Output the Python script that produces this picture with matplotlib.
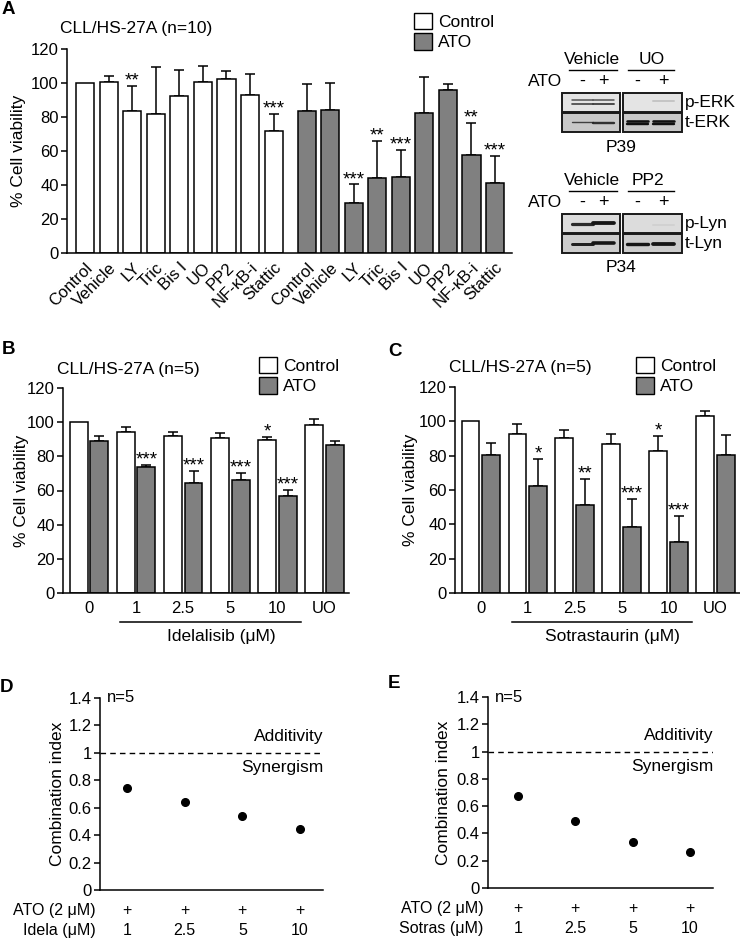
import matplotlib

matplotlib.use("Agg")
import matplotlib.pyplot as plt
from matplotlib.patches import Patch, Rectangle
from matplotlib.transforms import blended_transform_factory

plt.rcParams["font.family"] = ["Liberation Sans", "DejaVu Sans"]
plt.rcParams["axes.linewidth"] = 1.1

W, H = 740, 941
WHITE = "white"
GRAY = "#808080"

# panel A: inhibitors, CLL/HS-27A (n=10)
a_labels = ["Control", "Vehicle", "LY", "Tric", "Bis I", "UO", "PP2", "NF-κB-i", "Stattic"]
a_ctrl = [100, 100.5, 83.3, 81.7, 92.3, 100.4, 102.5, 92.7, 71.7]
a_ctrl_sd = [0, 3.8, 15.1, 27.7, 15.5, 9.4, 4.7, 12.8, 10.2]
a_ctrl_sig = ["", "", "**", "", "", "", "", "", "***"]
a_ato = [83.7, 84.4, 29.5, 44.0, 44.6, 82.3, 95.6, 57.7, 41.2]
a_ato_sd = [15.7, 15.8, 10.8, 22.0, 15.9, 21.0, 3.8, 18.9, 15.8]
a_ato_sig = ["", "", "***", "**", "***", "", "", "**", "***"]

# panel B: idelalisib
b_labels = ["0", "1", "2.5", "5", "10", "UO"]
b_ctrl = [100, 94.2, 92.0, 91.0, 89.7, 98.6]
b_ctrl_sd = [0, 2.7, 2.3, 2.6, 1.9, 3.2]
b_ctrl_sig = ["", "", "", "", "*", ""]
b_ato = [89.1, 73.5, 64.3, 66.1, 56.5, 86.7]
b_ato_sd = [2.9, 1.2, 7.0, 4.1, 3.9, 2.0]
b_ato_sig = ["", "***", "***", "***", "***", ""]

# panel C: sotrastaurin
c_labels = ["0", "1", "2.5", "5", "10", "UO"]
c_ctrl = [100, 92.9, 90.2, 86.9, 83.0, 102.9]
c_ctrl_sd = [0, 5.7, 4.6, 6.0, 8.3, 2.9]
c_ctrl_sig = ["", "", "", "", "*", ""]
c_ato = [80.1, 62.4, 51.5, 38.2, 29.9, 80.1]
c_ato_sd = [7.4, 15.4, 14.7, 16.8, 14.7, 12.2]
c_ato_sig = ["", "*", "**", "***", "***", ""]

# panels D/E: combination index
d_doses = ["1", "2.5", "5", "10"]
d_ci = [0.743, 0.645, 0.536, 0.448]
e_doses = ["1", "2.5", "5", "10"]
e_ci = [0.677, 0.489, 0.335, 0.264]

fig = plt.figure(figsize=(W / 100, H / 100), dpi=100)


def px_axes(l, t, r, b):
    return fig.add_axes([l / W, 1 - b / H, (r - l) / W, (b - t) / H])


def style(ax, fs=12):
    for s in ("top", "right"):
        ax.spines[s].set_visible(False)
    ax.tick_params(axis="y", direction="out", length=4, width=1.1, labelsize=fs, pad=2)
    ax.tick_params(axis="x", length=0, labelsize=fs)


def bars(ax, xs, vals, sds, sigs, color, width):
    ax.bar(xs, vals, width=width, color=color, edgecolor="black", linewidth=1.1, zorder=2)
    for x, v, sd, s in zip(xs, vals, sds, sigs):
        if sd > 0:
            ax.errorbar(x, v, yerr=[[0], [sd]], color="black", lw=1.1, capsize=3.5,
                        capthick=1.1, zorder=1)
        if s:
            ax.text(x, v + sd + 0.3, s, ha="center", va="baseline", fontsize=13.5)


def legend(ax, x, y):
    handles = [Patch(facecolor=WHITE, edgecolor="black", lw=1),
               Patch(facecolor=GRAY, edgecolor="black", lw=1)]
    ax.legend(handles, ["Control", "ATO"], loc="upper left",
              bbox_to_anchor=(x / W, 1 - y / H), bbox_transform=fig.transFigure,
              frameon=False, fontsize=12.5, handlelength=1.05, handleheight=1.05,
              handletextpad=0.35, labelspacing=0.2, borderpad=0, borderaxespad=0)


# ---- A ----
axA = px_axes(67, 49, 512, 253)
style(axA)
xa_c = list(range(9))
xa_a = [x + 9.4 for x in xa_c]
bars(axA, xa_c, a_ctrl, a_ctrl_sd, a_ctrl_sig, WHITE, 0.77)
bars(axA, xa_a, a_ato, a_ato_sd, a_ato_sig, GRAY, 0.77)
axA.set_xlim(-0.77, 18.12)
axA.set_ylim(0, 120)
axA.set_yticks(range(0, 121, 20))
axA.set_xticks(xa_c + xa_a)
axA.set_xticklabels(a_labels + a_labels, rotation=45, ha="right",
                    rotation_mode="anchor", fontsize=12)
axA.tick_params(axis="x", pad=5)
axA.set_ylabel("% Cell viability", fontsize=12.5)
axA.yaxis.set_label_coords(-0.092, 0.5)
axA.set_title("CLL/HS-27A (n=10)", fontsize=12.5, loc="left", x=-0.015, y=1.04)
legend(axA, 414, 13)

# ---- B and C ----
def dose_panel(box, labels, ctrl, ctrl_sd, ctrl_sig, ato, ato_sd, ato_sig, drug, lab_x):
    ax = px_axes(*box)
    style(ax)
    xs = list(range(len(labels)))
    bars(ax, [x - 0.22 for x in xs], ctrl, ctrl_sd, ctrl_sig, WHITE, 0.38)
    bars(ax, [x + 0.22 for x in xs], ato, ato_sd, ato_sig, GRAY, 0.38)
    ax.set_xlim(-0.55, 5.52)
    ax.set_ylim(0, 120)
    ax.set_yticks(range(0, 121, 20))
    ax.set_xticks(xs)
    ax.set_xticklabels(labels)
    ax.tick_params(axis="x", pad=6)
    ax.set_ylabel("% Cell viability", fontsize=12.5)
    ax.yaxis.set_label_coords(lab_x, 0.5)
    tr = blended_transform_factory(ax.transData, ax.transAxes)
    ax.plot([0.66, 4.5], [-0.142, -0.142], color="black", lw=1.1, transform=tr, clip_on=False)
    ax.text(2.8, -0.21, drug, transform=tr, ha="center", va="center", fontsize=12.5)
    ax.set_title("CLL/HS-27A (n=5)", fontsize=12.5, loc="left", x=-0.02, y=1.03)
    return ax


axB = dose_panel((63, 388, 349, 593), b_labels, b_ctrl, b_ctrl_sd, b_ctrl_sig,
                 b_ato, b_ato_sd, b_ato_sig, "Idelalisib (μM)", -0.119)
legend(axB, 259, 357)
axC = dose_panel((455, 387, 740, 593), c_labels, c_ctrl, c_ctrl_sd, c_ctrl_sig,
                 c_ato, c_ato_sd, c_ato_sig, "Sotrastaurin (μM)", -0.13)
legend(axC, 636, 357)

# ---- D and E ----
def ci_panel(box, doses, ci, drug, xlim, lab_x):
    ax = px_axes(*box)
    style(ax, fs=12)
    xs = list(range(len(doses)))
    ax.plot(xs, ci, "o", color="black", ms=5.5, clip_on=False)
    ax.axhline(1, color="black", lw=1, ls=(0, (4, 3)))
    ax.set_xlim(*xlim)
    ax.set_ylim(0, 1.4)
    ticks = [0, 0.2, 0.4, 0.6, 0.8, 1, 1.2, 1.4]
    ax.set_yticks(ticks)
    ax.set_yticklabels(["0", "0.2", "0.4", "0.6", "0.8", "1", "1.2", "1.4"])
    ax.set_xticks(xs)
    ax.set_xticklabels(["+\n" + d for d in doses], fontsize=11.5, linespacing=1.42)
    ax.tick_params(axis="x", pad=9)
    ax.annotate("ATO (2 μM)\n" + drug, xy=(0, 0), xycoords="axes fraction",
                xytext=(-3, -9), textcoords="offset points", ha="right", va="top",
                fontsize=11.5, linespacing=1.42, annotation_clip=False)
    ax.set_ylabel("Combination index", fontsize=12.5)
    ax.yaxis.set_label_coords(lab_x, 0.5)
    tr = blended_transform_factory(ax.transAxes, ax.transData)
    ax.text(1.0, 1.117, "Additivity", transform=tr, ha="right", va="center", fontsize=12.5)
    ax.text(1.0, 0.89, "Synergism", transform=tr, ha="right", va="center", fontsize=12.5)
    ax.text(0.03, 1.0, "n=5", transform=ax.transAxes, ha="left", va="center", fontsize=12)
    return ax


ci_panel((100, 698, 323, 890), d_doses, d_ci, "Idela (μM)", (-0.47, 3.4), -0.157)
ci_panel((488, 697, 713, 888), e_doses, e_ci, "Sotras (μM)", (-0.52, 3.4), -0.164)

# ---- overlay: panel letters and western blots ----
ov = fig.add_axes([0, 0, 1, 1], zorder=-1)
ov.set_xlim(0, W)
ov.set_ylim(H, 0)
ov.axis("off")
for letter, x, y in [("A", 2, 9), ("B", 2, 349), ("C", 388, 352), ("D", 0, 688), ("E", 388, 684)]:
    ov.text(x, y, letter, fontsize=13.5, fontweight="bold", ha="left", va="center")

LW = 0.72  # points per pixel


def blot_box(x0, x1, y0, y1, bg):
    ov.add_patch(Rectangle((x0, y0), x1 - x0, y1 - y0, facecolor=bg, edgecolor="#1a1a1a", lw=1.4))


def band(xc, y, h, color, alpha=1.0):
    ov.plot([xc - 10.5, xc + 10.5], [y, y], color=color, lw=h * LW,
            solid_capstyle="round", alpha=alpha)


def blot(top, left_lab, right_lab, rows, patient):
    lanes = [582, 603, 637, 663]
    ov.text(592, top, left_lab, ha="center", va="center", fontsize=12.5)
    ov.text(652 if right_lab == "UO" else 648, top, right_lab, ha="center", va="center", fontsize=12.5)
    ov.plot([569, 617], [top + 11, top + 11], color="black", lw=1)
    ov.plot([628, 674], [top + 11, top + 11], color="black", lw=1)
    ov.text(562, top + 22, "ATO", ha="right", va="center", fontsize=12.5)
    for xc, s in zip(lanes, ["-", "+", "-", "+"]):
        ov.text(xc, top + 22, s, ha="center", va="center", fontsize=13)
    y = top + 34
    for name, bg, bands in rows:
        blot_box(562, 620, y, y + 19, bg)
        blot_box(623, 682, y, y + 19, bg)
        for xc, dy, h, col, al in bands:
            band(xc, y + dy, h, col, al)
        ov.text(685, y + 9.5, name, ha="left", va="center", fontsize=12.5)
        y += 20
    ov.text(621, y + 14, patient, ha="center", va="center", fontsize=12.5)


blot(59, "Vehicle", "UO", [
    ("p-ERK", "#e4e4e4", [(582, 7, 1.5, "#404040", 0.9), (582, 10.5, 1.7, "#353535", 0.9),
                          (603, 7, 1.5, "#404040", 0.9), (603, 10.5, 1.9, "#353535", 0.9),
                          (663, 7.5, 2, "#b8b8b8", 0.7)]),
    ("t-ERK", "#c8c8c8", [(582, 9, 1.4, "#303030", 0.9), (603, 10, 2.4, "#202020", 0.9),
                          (637, 8, 2.6, "#101010", 1), (637, 11, 2.4, "#101010", 1),
                          (663, 8, 2.6, "#101010", 1), (663, 11, 2.4, "#101010", 1)]),
], "P39")

blot(180, "Vehicle", "PP2", [
    ("p-Lyn", "#dcdcdc", [(582, 10, 3.2, "#202020", 0.95), (603, 9, 3.8, "#151515", 1),
                          (663, 11, 2, "#c8c8c8", 0.5)]),
    ("t-Lyn", "#cccccc", [(582, 10, 3.0, "#202020", 1), (603, 9, 3.6, "#151515", 1),
                          (637, 10, 3.4, "#151515", 1), (663, 10, 3.8, "#151515", 1)]),
], "P34")

fig.savefig("out.png", dpi=100)
